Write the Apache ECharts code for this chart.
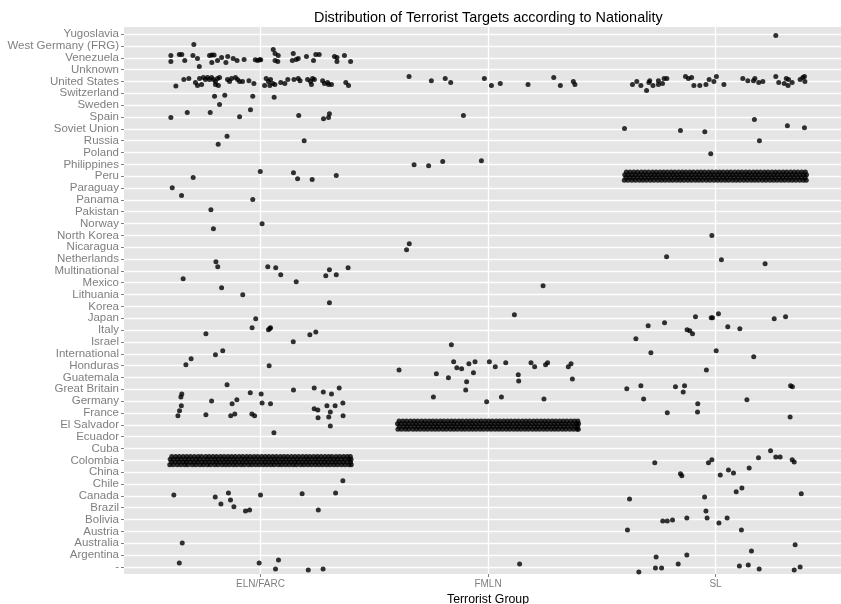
<!DOCTYPE html>
<html>
<head>
<meta charset="utf-8">
<script src="https://cdn.jsdelivr.net/npm/echarts@6/dist/echarts.min.js"></script>
<style>
html, body { margin: 0; padding: 0; background: #fff; }
#chart { width: 841px; height: 604px; }
</style>
</head>
<body>
<div id="chart"></div>
<script>
// categories
const groups = ["ELN/FARC", "FMLN", "SL"];
const nationalities = [
    "-", "Argentina", "Australia", "Austria", "Bolivia", "Brazil", "Canada", "Chile",
    "China", "Colombia", "Cuba", "Ecuador", "El Salvador", "France", "Germany",
    "Great Britain", "Guatemala", "Honduras", "International", "Israel", "Italy",
    "Japan", "Korea", "Lithuania", "Mexico", "Multinational", "Netherlands",
    "Nicaragua", "North Korea", "Norway", "Pakistan", "Panama", "Paraguay", "Peru",
    "Philippines", "Poland", "Russia", "Soviet Union", "Spain", "Sweden",
    "Switzerland", "United States", "Unknown", "Venezuela", "West Germany (FRG)",
    "Yugoslavia"
];

// jittered points [group + jitter, nationality level + jitter]
const elnPoints = [
    [0.707,45.12],[0.606,44.19],[0.606,43.68],[0.643,44.27],[0.654,44.27],[0.667,43.77],[0.703,44.19],
    [0.723,43.93],[0.731,43.26],[0.776,44.19],[0.786,44.24],[0.796,44.24],[0.786,43.60],[0.811,43.77],
    [0.829,44.02],[0.848,43.60],[0.856,44.10],[0.880,43.93],[0.897,43.77],[0.928,43.85],[0.977,43.83],
    [0.987,43.77],[0.996,43.83],[1.001,43.83],[1.056,44.70],[1.064,44.36],[1.078,44.19],[1.064,43.77],
    [1.076,43.68],[1.144,44.36],[1.140,43.77],[1.157,43.85],[1.166,43.93],[1.202,44.10],[1.233,43.77],
    [1.243,44.27],[1.258,44.27],[1.325,44.10],[1.336,44.02],[1.336,43.68],[1.369,44.19],[1.396,43.68],
    [0.628,41.62],[0.663,42.16],[0.685,42.24],[0.714,41.91],[0.723,41.65],[0.741,41.74],[0.732,42.24],
    [0.749,42.33],[0.758,42.16],[0.767,42.33],[0.776,42.16],[0.785,42.33],[0.793,42.16],[0.802,41.99],
    [0.811,42.24],[0.820,42.33],[0.802,41.74],[0.815,41.65],[0.855,42.16],[0.864,41.99],[0.873,42.24],
    [0.890,42.33],[0.899,42.16],[0.908,41.99],[0.921,41.99],[0.949,42.07],[0.971,41.82],[1.025,42.24],
    [1.035,41.99],[1.044,42.16],[1.054,41.82],[1.063,41.74],[1.018,41.65],[1.041,41.65],[1.089,41.91],
    [1.107,41.82],[1.120,42.16],[1.147,42.16],[1.166,42.24],[1.174,42.07],[1.207,42.16],[1.220,41.99],
    [1.229,42.24],[1.224,41.74],[1.237,42.16],[1.273,42.07],[1.281,41.82],[1.299,41.74],[1.312,41.74],
    [1.295,41.91],[1.375,41.91],[1.387,41.65],
    [0.798,40.75],[0.843,40.83],[0.966,40.75],[1.060,40.67],[0.820,40.05],
    [0.606,38.95],[0.678,39.37],[0.779,39.37],[0.908,39.03],[0.956,39.62],[1.168,39.12],[1.277,38.86],
    [1.299,38.95],[1.303,39.28],[0.853,37.37],[0.814,36.69],[1.192,37.00],
    [0.999,34.39],[1.145,34.30],[1.163,33.79],[1.227,33.71],[1.333,34.05],[0.704,33.88],[0.612,33.03],
    [0.653,32.36],[0.966,32.02],[0.782,31.17],[0.793,29.57],[1.007,29.99],[0.804,26.78],[0.812,26.36],
    [1.032,26.36],[1.067,26.27],[1.089,25.68],[1.157,25.09],[1.287,25.60],[1.303,26.10],[1.333,25.68],
    [1.385,26.27],[0.660,25.34],[0.829,24.58],[0.922,23.99],[1.303,23.31],
    [0.979,21.95],[0.963,21.19],[1.035,21.03],[1.041,21.14],[1.044,21.19],[0.760,20.69],[1.144,20.01],
    [1.217,20.60],[1.243,20.85],[0.695,18.57],[0.672,18.07],[0.802,18.91],[0.834,19.25],[1.038,17.98],
    [0.853,16.38],[1.145,15.95],[1.236,16.12],[1.276,15.78],[1.312,15.61],[1.346,16.12],[0.654,15.61],
    [0.650,15.36],[0.652,14.60],[0.644,14.18],[0.637,13.76],[0.785,15.02],[0.955,15.70],[1.003,15.61],
    [0.896,15.11],[0.875,14.77],[1.007,14.85],[1.044,14.77],[0.760,13.84],[0.869,13.76],[0.887,13.92],
    [0.962,13.92],[0.974,13.76],[1.236,14.35],[1.252,14.26],[1.292,14.60],[1.328,14.60],[1.362,14.85],
    [1.307,14.09],[1.253,13.59],[1.300,13.67],[1.363,13.76],[1.307,12.91],[1.059,12.32],
    [1.362,8.27],[0.619,7.08],[0.801,6.91],[0.826,6.32],[0.859,7.25],[0.868,6.66],[0.883,6.07],
    [0.934,5.73],[0.952,5.81],[1.000,7.08],[1.183,7.17],[1.330,7.25],[1.254,5.81],[0.656,3.02],
    [0.643,1.33],[0.994,1.33],[1.079,1.59],[1.066,0.83],[1.210,0.74],[1.275,0.83]
];

const fmlnPoints = [
    [1.653,42.41],[1.751,42.07],[1.812,42.24],[1.836,41.91],[1.984,42.24],[2.015,41.65],[2.054,41.82],
    [2.176,41.74],[2.289,42.33],[2.318,41.65],[2.375,41.99],[2.382,41.74],[1.892,39.12],[1.675,34.97],
    [1.739,34.89],[1.801,35.23],[1.971,35.31],[1.654,28.30],[1.642,27.79],[2.242,24.75],[2.116,22.29],
    [1.839,19.76],[1.609,17.64],[1.773,17.31],[1.826,16.97],[1.849,18.32],[1.863,17.81],[1.884,17.73],
    [1.916,18.15],[1.943,18.32],[1.936,17.39],[1.906,16.63],[1.902,15.95],[2.006,18.32],[2.032,17.90],
    [2.078,18.24],[2.133,17.22],[2.135,16.71],[2.189,18.24],[2.205,17.90],[2.253,18.07],[2.262,18.24],
    [2.353,17.90],[2.365,18.15],[2.371,16.88],[1.760,15.36],[1.994,14.94],[2.059,15.36],[2.246,15.19],
    [2.139,1.25]
];

const slPoints = [
    [3.265,45.88],
    [2.635,41.74],[2.654,41.99],[2.672,41.65],[2.697,41.23],[2.707,41.91],[2.711,42.07],[2.725,41.65],
    [2.749,41.74],[2.749,42.07],[2.767,41.82],[2.774,42.24],[2.786,42.24],[2.868,42.41],[2.881,42.24],
    [2.895,42.33],[2.905,41.65],[2.931,41.65],[2.958,41.74],[2.972,42.16],[2.993,41.99],[3.004,42.41],
    [3.037,41.74],[3.120,42.24],[3.142,42.07],[3.167,42.07],[3.173,42.24],[3.190,41.91],[3.208,41.99],
    [3.265,42.41],[3.278,41.91],[3.302,41.82],[3.311,42.24],[3.319,41.65],[3.321,42.16],[3.337,41.91],
    [3.372,42.16],[3.384,42.33],[3.391,42.41],[3.393,41.99],
    [2.600,38.02],[2.846,37.85],[2.953,37.76],[2.979,35.90],[3.171,38.78],[3.193,37.00],[3.316,38.27],
    [3.391,38.10],[2.984,28.98],[2.785,27.20],[3.026,26.95],[3.218,26.61],
    [3.013,22.38],[2.912,22.12],[2.981,22.04],[2.987,22.04],[3.258,21.95],[3.308,22.12],[2.704,21.36],
    [2.776,21.62],[2.875,21.03],[2.887,20.94],[2.899,20.69],[3.054,21.28],[3.107,21.11],[2.650,20.26],
    [2.716,19.08],[3.003,19.25],[3.168,18.74],[2.960,17.64],[2.610,16.04],[2.672,16.29],[2.824,16.21],
    [2.864,16.29],[2.858,15.78],[3.330,16.29],[3.338,16.21],[2.684,15.19],[2.922,14.77],[3.138,15.11],
    [2.788,14.01],[2.921,14.09],[3.328,13.67],
    [3.242,10.80],[3.189,10.21],[3.265,10.29],[3.284,10.29],[3.337,10.04],[3.346,9.87],[2.733,9.79],
    [2.969,9.79],[2.984,10.04],[3.148,9.36],[3.057,9.19],[3.079,8.94],[2.846,8.86],[2.852,8.69],
    [3.021,8.77],[3.091,7.34],[3.116,7.67],[3.377,7.17],[2.622,6.74],[2.952,6.91],[2.958,5.73],
    [2.963,5.14],[2.768,4.88],[2.788,4.88],[2.811,4.97],[2.874,5.14],[3.051,5.14],[3.015,4.71],
    [2.613,4.12],[3.114,4.12],[3.350,2.86],[3.158,2.35],[2.739,1.84],[2.874,2.01],[2.836,1.25],
    [2.736,0.91],[2.763,0.91],[2.663,0.57],[3.105,1.08],[3.144,1.16],[3.192,0.83],[3.346,0.74],
    [3.372,0.99]
];

// the three solid bands: hundreds of overlapping points, read as rows of jitter offsets
const bandRowOffsets = [-0.35, -0.12, 0.12, 0.35];
const colombiaBand = [
    [-0.399,-0.384,-0.366,-0.350,-0.333,-0.319,-0.300,-0.284,-0.266,-0.251,-0.234,-0.220,-0.202,-0.187,-0.169,-0.153,-0.137,-0.120,-0.104,-0.086,-0.071,-0.053,-0.038,-0.021,-0.005,0.012,0.028,0.045,0.060,0.078,0.093,0.110,0.126,0.143,0.158,0.176,0.191,0.208,0.224,0.241,0.257,0.273,0.290,0.306,0.323,0.339,0.356,0.372,0.389,0.399],
    [-0.392,-0.375,-0.359,-0.341,-0.326,-0.309,-0.292,-0.276,-0.258,-0.243,-0.227,-0.210,-0.194,-0.178,-0.161,-0.145,-0.128,-0.112,-0.095,-0.079,-0.062,-0.046,-0.030,-0.013,0.004,0.020,0.036,0.053,0.069,0.086,0.101,0.118,0.134,0.151,0.167,0.184,0.200,0.216,0.233,0.249,0.265,0.282,0.298,0.315,0.331,0.347,0.364,0.380,0.396],
    [-0.397,-0.381,-0.364,-0.349,-0.331,-0.316,-0.299,-0.282,-0.267,-0.249,-0.233,-0.217,-0.200,-0.185,-0.168,-0.151,-0.135,-0.118,-0.103,-0.085,-0.069,-0.054,-0.036,-0.020,-0.004,0.013,0.029,0.046,0.062,0.077,0.095,0.111,0.127,0.144,0.160,0.175,0.193,0.209,0.225,0.242,0.256,0.274,0.289,0.307,0.322,0.338,0.355,0.371,0.388,0.398],
    [-0.390,-0.373,-0.357,-0.340,-0.324,-0.308,-0.291,-0.274,-0.259,-0.241,-0.226,-0.209,-0.193,-0.176,-0.160,-0.143,-0.127,-0.111,-0.094,-0.078,-0.061,-0.045,-0.028,-0.012,0.005,0.021,0.037,0.054,0.070,0.087,0.103,0.119,0.136,0.152,0.168,0.185,0.201,0.217,0.234,0.250,0.266,0.283,0.299,0.314,0.332,0.348,0.365,0.381,0.395]
];
const elSalvadorBand = [
    [-0.396,-0.380,-0.363,-0.348,-0.330,-0.314,-0.298,-0.281,-0.265,-0.248,-0.232,-0.216,-0.199,-0.183,-0.166,-0.150,-0.134,-0.117,-0.101,-0.084,-0.068,-0.052,-0.035,-0.019,-0.002,0.014,0.031,0.047,0.063,0.080,0.096,0.113,0.129,0.145,0.162,0.178,0.195,0.211,0.227,0.244,0.260,0.277,0.293,0.309,0.326,0.342,0.359,0.375,0.391,0.397],
    [-0.390,-0.372,-0.356,-0.340,-0.323,-0.307,-0.290,-0.274,-0.257,-0.240,-0.224,-0.208,-0.191,-0.175,-0.158,-0.142,-0.125,-0.109,-0.093,-0.076,-0.060,-0.043,-0.027,-0.010,0.006,0.022,0.039,0.055,0.072,0.088,0.104,0.121,0.137,0.154,0.170,0.186,0.203,0.219,0.236,0.252,0.268,0.285,0.301,0.318,0.334,0.350,0.367,0.383,0.394],
    [-0.398,-0.382,-0.365,-0.349,-0.332,-0.316,-0.300,-0.283,-0.267,-0.250,-0.234,-0.218,-0.201,-0.185,-0.168,-0.152,-0.136,-0.119,-0.103,-0.086,-0.070,-0.054,-0.037,-0.021,-0.004,0.012,0.028,0.045,0.061,0.078,0.094,0.110,0.127,0.143,0.160,0.176,0.192,0.209,0.225,0.242,0.258,0.274,0.291,0.307,0.324,0.340,0.356,0.373,0.389,0.398],
    [-0.391,-0.374,-0.358,-0.341,-0.325,-0.309,-0.292,-0.276,-0.259,-0.243,-0.227,-0.210,-0.194,-0.177,-0.161,-0.145,-0.128,-0.112,-0.095,-0.079,-0.063,-0.046,-0.030,-0.013,0.003,0.019,0.036,0.052,0.069,0.085,0.101,0.118,0.134,0.151,0.167,0.183,0.200,0.216,0.233,0.249,0.265,0.282,0.298,0.315,0.331,0.347,0.364,0.380,0.395]
];
const peruBand = [
    [-0.401,-0.385,-0.368,-0.352,-0.335,-0.319,-0.303,-0.286,-0.270,-0.253,-0.237,-0.221,-0.204,-0.188,-0.171,-0.155,-0.139,-0.122,-0.106,-0.089,-0.073,-0.057,-0.040,-0.024,-0.007,0.009,0.025,0.042,0.058,0.075,0.091,0.107,0.124,0.140,0.157,0.173,0.189,0.206,0.222,0.239,0.255,0.271,0.288,0.304,0.321,0.337,0.353,0.370,0.386,0.399],
    [-0.394,-0.377,-0.361,-0.344,-0.328,-0.312,-0.295,-0.279,-0.262,-0.246,-0.230,-0.213,-0.197,-0.180,-0.164,-0.148,-0.131,-0.115,-0.098,-0.082,-0.066,-0.049,-0.033,-0.016,0.000,0.016,0.033,0.049,0.066,0.082,0.098,0.115,0.131,0.148,0.164,0.180,0.197,0.213,0.230,0.246,0.262,0.279,0.295,0.312,0.328,0.344,0.361,0.377,0.394],
    [-0.399,-0.383,-0.366,-0.350,-0.334,-0.317,-0.301,-0.284,-0.268,-0.252,-0.235,-0.219,-0.202,-0.186,-0.170,-0.153,-0.137,-0.120,-0.104,-0.088,-0.071,-0.055,-0.038,-0.022,-0.006,0.011,0.027,0.044,0.060,0.076,0.093,0.109,0.126,0.142,0.158,0.175,0.191,0.208,0.224,0.240,0.257,0.273,0.290,0.306,0.322,0.339,0.355,0.372,0.388,0.400],
    [-0.392,-0.376,-0.359,-0.343,-0.326,-0.310,-0.294,-0.277,-0.261,-0.244,-0.228,-0.212,-0.195,-0.179,-0.162,-0.146,-0.130,-0.113,-0.097,-0.080,-0.064,-0.048,-0.031,-0.015,0.002,0.018,0.034,0.051,0.067,0.084,0.100,0.116,0.133,0.149,0.166,0.182,0.198,0.215,0.231,0.248,0.264,0.280,0.297,0.313,0.330,0.346,0.362,0.379,0.395]
];
const bands = [
    { group: 1, level: 9.97, rows: colombiaBand },
    { group: 2, level: 12.97, rows: elSalvadorBand },
    { group: 3, level: 34.00, rows: peruBand }
];

const fontFamily = "'Liberation Sans', Arial, sans-serif";

let allPoints = elnPoints.concat(fmlnPoints, slPoints);
bands.forEach(function (b) {
    b.rows.forEach(function (row, i) {
        row.forEach(function (dx) {
            allPoints.push([b.group + dx, b.level + bandRowOffsets[i]]);
        });
    });
});

const levels = nationalities.map(function (n, i) { return i + 1; });

const chart = echarts.init(document.getElementById("chart"), null, { renderer: "canvas" });
chart.setOption({
    animation: false,
    backgroundColor: "#fff",
    title: {
        text: "Distribution of Terrorist Targets according to Nationality",
        left: 314,
        top: 11,
        padding: 0,
        textStyle: { fontFamily: fontFamily, fontSize: 14.4, fontWeight: "normal", color: "#000" }
    },
    grid: {
        left: 124, right: -11, top: 27, bottom: 30,
        show: true, backgroundColor: "#e5e5e5", borderWidth: 0,
        containLabel: false, outerBoundsMode: "none"
    },
    xAxis: {
        type: "value",
        min: 0.4,
        max: 3.6,
        name: "Terrorist Group",
        nameLocation: "middle",
        nameGap: 17,
        nameTextStyle: { fontFamily: fontFamily, fontSize: 12.3, color: "#000" },
        axisLine: { show: false },
        axisTick: { show: true, length: 3, customValues: [1, 2, 3], lineStyle: { color: "#7f7f7f" } },
        axisLabel: {
            customValues: [1, 2, 3],
            formatter: function (v) { return groups[Math.round(v) - 1]; },
            color: "#7f7f7f", fontFamily: fontFamily, fontSize: 10, margin: 5
        },
        splitLine: { show: true, lineStyle: { color: "#fff", width: 1.3 } }
    },
    yAxis: {
        type: "value",
        min: 0.4,
        max: 46.6,
        name: "Target Nationality",
        nameLocation: "middle",
        nameRotate: 90,
        nameGap: 110,
        nameTextStyle: { fontFamily: fontFamily, fontSize: 12, color: "#000" },
        axisLine: { show: false },
        axisTick: { show: true, length: 3, customValues: levels, lineStyle: { color: "#7f7f7f" } },
        axisLabel: {
            customValues: levels,
            formatter: function (v) { return nationalities[Math.round(v) - 1]; },
            color: "#7f7f7f", fontFamily: fontFamily, fontSize: 11.5, margin: 5
        },
        splitLine: { show: true, lineStyle: { color: "#fff", width: 1.3 } }
    },
    series: [{
        type: "scatter",
        data: allPoints,
        symbol: "circle",
        symbolSize: 5,
        itemStyle: { color: "#000" },
        silent: true
    }]
});
</script>
</body>
</html>
